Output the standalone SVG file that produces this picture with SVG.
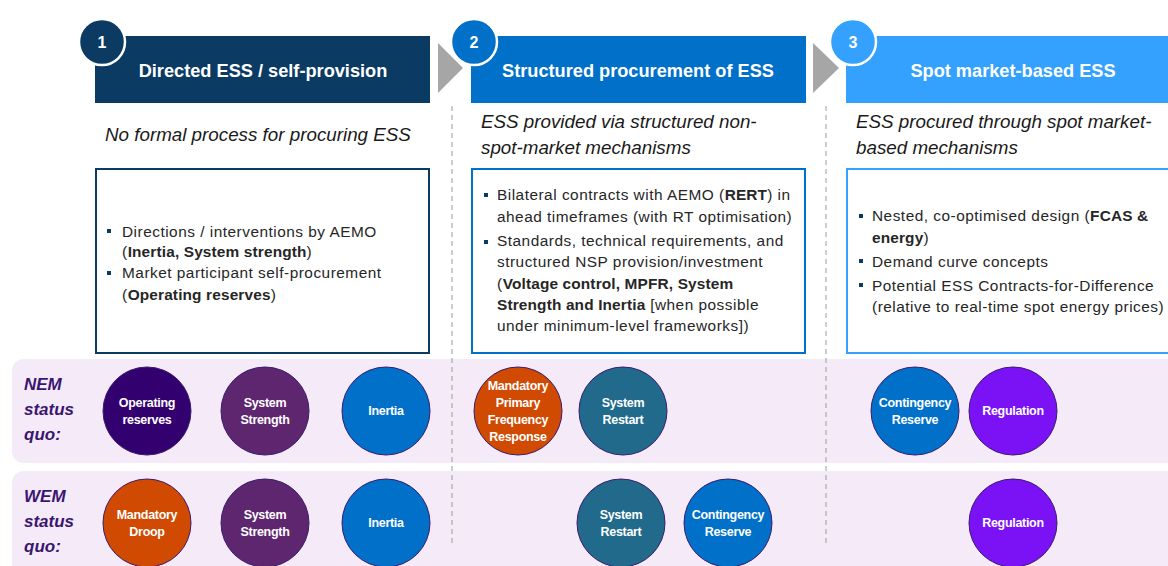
<svg xmlns="http://www.w3.org/2000/svg" width="1168" height="566" viewBox="0 0 1168 566">
<style>
.hd{font-family:"Liberation Sans",Arial,sans-serif;font-weight:bold;font-size:18.2px;fill:#fff;text-anchor:middle}
.num{font-family:"Liberation Sans",Arial,sans-serif;font-weight:bold;font-size:16px;fill:#fff;text-anchor:middle}
.sub{font-family:"Liberation Sans",Arial,sans-serif;font-style:italic;font-size:18.8px;fill:#1a1a1a}
.bx{font-family:"Liberation Sans",Arial,sans-serif;font-size:15.4px;letter-spacing:0.5px;fill:#262626}
.b{font-weight:bold;letter-spacing:0.15px}
.lbl{font-family:"Liberation Sans",Arial,sans-serif;font-style:italic;font-weight:bold;font-size:17px;fill:#3a1670}
.ct{font-family:"Liberation Sans",Arial,sans-serif;font-weight:bold;font-size:12.5px;fill:#fff;text-anchor:middle;letter-spacing:-0.3px}
.cir{stroke:#3a1a70;stroke-width:1}
.dash{stroke:#9a9a9a;stroke-width:1;stroke-dasharray:5,4}
.band{fill:#f5eaf7}
</style>
<rect width="1168" height="566" fill="#fff"/>

<!-- bands -->
<rect class="band" x="12" y="359" width="1170" height="104" rx="12"/>
<rect class="band" x="12" y="471" width="1170" height="110" rx="12"/>

<g id="row-labels">
<text class="lbl" x="24" y="390">NEM</text>
<text class="lbl" x="24" y="415">status</text>
<text class="lbl" x="24" y="440">quo:</text>
<text class="lbl" x="24" y="502">WEM</text>
<text class="lbl" x="24" y="527">status</text>
<text class="lbl" x="24" y="552">quo:</text>
</g>

<g id="connectors">
<line class="dash" x1="452" y1="106" x2="452" y2="546"/>
<line class="dash" x1="826" y1="106" x2="826" y2="546"/>
<polygon points="438,43 463,68 438,93" fill="#a6a6a6"/>
<polygon points="813,43 839,68 813,93" fill="#a6a6a6"/>
</g>

<g id="stage1">
<rect x="95" y="36" width="335" height="67" fill="#0b3a63"/>
<text class="hd" x="263" y="77">Directed ESS / self-provision</text>
<circle cx="102" cy="42" r="23" fill="#0b3a63" stroke="#fff" stroke-width="2.5"/>
<text class="num" x="102" y="48">1</text>
<text class="sub" x="105" y="141">No formal process for procuring ESS</text>
<rect x="96" y="169" width="333" height="184" fill="#fff" stroke="#0b3a63" stroke-width="2"/>
<rect x="107" y="229" width="4" height="4" fill="#0b3a63"/>
<rect x="107" y="271" width="4" height="4" fill="#0b3a63"/>
<text class="bx" x="122" y="237">Directions / interventions by AEMO</text>
<text class="bx" x="122" y="257">(<tspan class="b">Inertia, System strength</tspan>)</text>
<text class="bx" x="122" y="278">Market participant self-procurement</text>
<text class="bx" x="122" y="300">(<tspan class="b">Operating reserves</tspan>)</text>
</g>

<g id="stage2">
<rect x="471" y="36" width="335" height="67" fill="#0070c9"/>
<text class="hd" x="638" y="77">Structured procurement of ESS</text>
<circle cx="474" cy="42" r="23" fill="#0070c9" stroke="#fff" stroke-width="2.5"/>
<text class="num" x="474" y="48">2</text>
<text class="sub" x="481" y="128">ESS provided via structured non-</text>
<text class="sub" x="481" y="154">spot-market mechanisms</text>
<rect x="472" y="169" width="333" height="184" fill="#fff" stroke="#0070c9" stroke-width="2"/>
<rect x="484" y="193" width="4" height="4" fill="#0b3a63"/>
<rect x="484" y="240" width="4" height="4" fill="#0b3a63"/>
<text class="bx" x="497" y="200">Bilateral contracts with AEMO (<tspan class="b">RERT</tspan>) in</text>
<text class="bx" x="497" y="222">ahead timeframes (with RT optimisation)</text>
<text class="bx" x="497" y="246">Standards, technical requirements, and</text>
<text class="bx" x="497" y="267">structured NSP provision/investment</text>
<text class="bx" x="497" y="289">(<tspan class="b">Voltage control, MPFR, System</tspan></text>
<text class="bx" x="497" y="310"><tspan class="b">Strength and Inertia</tspan> [when possible</text>
<text class="bx" x="497" y="331">under minimum-level frameworks])</text>
</g>

<g id="stage3">
<rect x="846" y="36" width="335" height="67" fill="#33a1fd"/>
<text class="hd" x="1013" y="77">Spot market-based ESS</text>
<circle cx="853" cy="42" r="23" fill="#33a1fd" stroke="#fff" stroke-width="2.5"/>
<text class="num" x="853" y="48">3</text>
<text class="sub" x="856" y="128">ESS procured through spot market-</text>
<text class="sub" x="856" y="154">based mechanisms</text>
<rect x="847" y="169" width="333" height="184" fill="#fff" stroke="#33a1fd" stroke-width="2"/>
<rect x="859" y="214" width="4" height="4" fill="#0b3a63"/>
<rect x="859" y="259" width="4" height="4" fill="#0b3a63"/>
<rect x="859" y="283" width="4" height="4" fill="#0b3a63"/>
<text class="bx" x="872" y="221">Nested, co-optimised design (<tspan class="b">FCAS &amp;</tspan></text>
<text class="bx" x="872" y="243"><tspan class="b">energy</tspan>)</text>
<text class="bx" x="872" y="267">Demand curve concepts</text>
<text class="bx" x="872" y="291">Potential ESS Contracts-for-Difference</text>
<text class="bx" x="872" y="312">(relative to real-time spot energy prices)</text>
</g>

<g id="nem-operating-reserves"><circle class="cir" cx="147" cy="411" r="44" fill="#33006f"/><text class="ct" x="147" y="407">Operating</text><text class="ct" x="147" y="424">reserves</text></g>
<g id="nem-system-strength"><circle class="cir" cx="265" cy="411" r="44" fill="#5f2670"/><text class="ct" x="265" y="407">System</text><text class="ct" x="265" y="424">Strength</text></g>
<g id="nem-inertia"><circle class="cir" cx="386" cy="411" r="44" fill="#0070c9"/><text class="ct" x="386" y="415">Inertia</text></g>
<g id="nem-mpfr"><circle class="cir" cx="518" cy="411" r="44" fill="#d04a02"/><text class="ct" x="518" y="390">Mandatory</text><text class="ct" x="518" y="407">Primary</text><text class="ct" x="518" y="424">Frequency</text><text class="ct" x="518" y="441">Response</text></g>
<g id="nem-system-restart"><circle class="cir" cx="623" cy="411" r="44" fill="#216a8c"/><text class="ct" x="623" y="407">System</text><text class="ct" x="623" y="424">Restart</text></g>
<g id="nem-contingency-reserve"><circle class="cir" cx="915" cy="411" r="44" fill="#0070c9"/><text class="ct" x="915" y="407">Contingency</text><text class="ct" x="915" y="424">Reserve</text></g>
<g id="nem-regulation"><circle class="cir" cx="1013" cy="411" r="44" fill="#7a12f5"/><text class="ct" x="1013" y="415">Regulation</text></g>

<g id="wem-mandatory-droop"><circle class="cir" cx="147" cy="523" r="44" fill="#d04a02"/><text class="ct" x="147" y="519">Mandatory</text><text class="ct" x="147" y="536">Droop</text></g>
<g id="wem-system-strength"><circle class="cir" cx="265" cy="523" r="44" fill="#5f2670"/><text class="ct" x="265" y="519">System</text><text class="ct" x="265" y="536">Strength</text></g>
<g id="wem-inertia"><circle class="cir" cx="386" cy="523" r="44" fill="#0070c9"/><text class="ct" x="386" y="527">Inertia</text></g>
<g id="wem-system-restart"><circle class="cir" cx="621" cy="523" r="44" fill="#216a8c"/><text class="ct" x="621" y="519">System</text><text class="ct" x="621" y="536">Restart</text></g>
<g id="wem-contingency-reserve"><circle class="cir" cx="728" cy="523" r="44" fill="#0070c9"/><text class="ct" x="728" y="519">Contingency</text><text class="ct" x="728" y="536">Reserve</text></g>
<g id="wem-regulation"><circle class="cir" cx="1013" cy="523" r="44" fill="#7a12f5"/><text class="ct" x="1013" y="527">Regulation</text></g>
</svg>
